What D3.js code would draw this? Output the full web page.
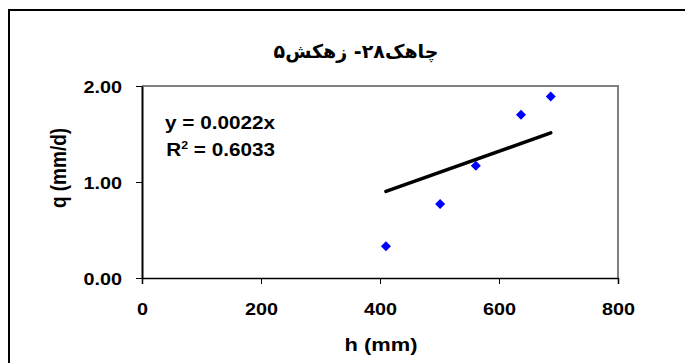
<!DOCTYPE html>
<html>
<head>
<meta charset="utf-8">
<script src="https://cdn.jsdelivr.net/npm/d3@7"></script>
<style>
  body { margin: 0; background: #fff; }
  text { font-family: Arial, "Liberation Sans", sans-serif; font-weight: bold; fill: #000; }
</style>
</head>
<body>
<script>
// data
var hValues = [410, 501, 561, 637, 687];
var qValues = [0.33, 0.77, 1.17, 1.70, 1.89];
var xTicks = [0, 200, 400, 600, 800];
var yTicks = [0, 1, 2];
var trendSlope = 0.0022;
var trendLabel = "y = 0.0022x";
var r2Label = "0.6033";
var chartTitle = "چاهک۲۸- زهکش۵";

var width = 685,
    height = 363;
var plot = {left: 142, right: 618, top: 86, bottom: 278};
var stretch = 1.2; // text in the source looks wider than plain Arial

var svg = d3.select("body")
    .append("svg")
    .attr("width", width)
    .attr("height", height);

// outer chart border, runs off the right and bottom edges
svg.append("rect")
    .attr("x", 9).attr("y", 10)
    .attr("width", 700).attr("height", 380)
    .attr("fill", "none")
    .attr("stroke", "#000")
    .attr("stroke-width", 2);

var x = d3.scaleLinear().domain([0, 800]).range([plot.left, plot.right]);
var y = d3.scaleLinear().domain([0, 2]).range([plot.bottom, plot.top]);

// plot area frame (top and right in grey)
svg.append("path")
    .attr("d", "M" + plot.left + "," + plot.top + "H" + plot.right + "V" + plot.bottom)
    .attr("fill", "none")
    .attr("stroke", "#808080")
    .attr("stroke-width", 2);

// x axis
var xAxis = svg.append("g")
    .attr("transform", "translate(0," + plot.bottom + ")")
    .call(d3.axisBottom(x).tickValues(xTicks).tickSize(6).tickFormat(d3.format("d")));
xAxis.select(".domain").attr("stroke", "#000").attr("stroke-width", 1.5);
xAxis.selectAll(".tick line").attr("stroke", "#000");
xAxis.selectAll(".tick text")
    .attr("y", 0).attr("dy", null)
    .attr("transform", "translate(0,37) scale(" + stretch + ",1)")
    .style("font-size", "16.5px")
    .style("font-family", "Arial, 'Liberation Sans', sans-serif")
    .style("font-weight", "bold");

// y axis
var yAxis = svg.append("g")
    .attr("transform", "translate(" + plot.left + ",0)")
    .call(d3.axisLeft(y).tickValues(yTicks).tickSize(6).tickSizeOuter(0).tickFormat(d3.format(".2f")));
yAxis.select(".domain").attr("stroke", "#000").attr("stroke-width", 2);
yAxis.selectAll(".tick line").attr("stroke", "#000");
yAxis.selectAll(".tick text")
    .attr("x", 0).attr("dy", null).attr("y", 0)
    .attr("transform", "translate(-20,6) scale(" + stretch + ",1)")
    .style("font-size", "16.5px")
    .style("font-family", "Arial, 'Liberation Sans', sans-serif")
    .style("font-weight", "bold");
svg.selectAll(".tick text").attr("fill", "#000");

// trend line through origin over the data range
var hExtent = d3.extent(hValues);
var line = d3.line()
    .x(function(d){ return x(d); })
    .y(function(d){ return y(trendSlope * d); });
svg.append("path")
    .datum(hExtent)
    .attr("d", line)
    .attr("fill", "none")
    .attr("stroke", "#000")
    .attr("stroke-width", 3.5)
    .attr("stroke-linecap", "round");

// points
var diamond = d3.symbol().type(d3.symbolSquare).size(50);
svg.selectAll(".pt")
    .data(hValues)
    .enter()
    .append("path")
    .attr("class", "pt")
    .attr("d", diamond)
    .attr("fill", "#0000ff")
    .attr("transform", function(d, i){
        return "translate(" + x(d) + "," + y(qValues[i]) + ") rotate(45)";
    });

// equation labels
svg.append("text")
    .attr("transform", "translate(275,129) scale(1.12,1)")
    .attr("text-anchor", "end")
    .style("font-size", "18.5px")
    .text(trendLabel);
var r2 = svg.append("text")
    .attr("transform", "translate(275,156) scale(1.12,1)")
    .attr("text-anchor", "end")
    .style("font-size", "18.5px");
r2.append("tspan").text("R");
r2.append("tspan").attr("dy", -7).style("font-size", "11px").text("2");
r2.append("tspan").attr("dy", 7).text(" = " + r2Label);

// title
svg.append("text")
    .attr("x", 356).attr("y", 58)
    .attr("text-anchor", "middle")
    .attr("direction", "rtl")
    .style("font-family", "'DejaVu Sans', sans-serif")
    .style("font-size", "19px")
    .text(chartTitle);

// axis titles
svg.append("text")
    .attr("transform", "translate(381,351) scale(1.15,1)")
    .attr("text-anchor", "middle")
    .style("font-size", "19px")
    .text("h (mm)");
svg.append("text")
    .attr("transform", "translate(66,168) scale(" + stretch + ",1) rotate(-90)")
    .attr("text-anchor", "middle")
    .style("font-size", "19px")
    .text("q (mm/d)");
</script>
</body>
</html>
